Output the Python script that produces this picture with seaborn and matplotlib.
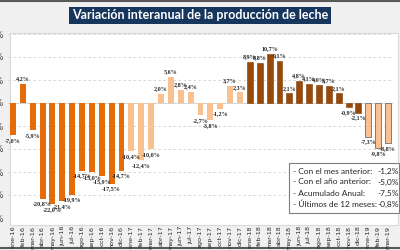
import numpy as np
import pandas as pd
import matplotlib
matplotlib.use("Agg")
import matplotlib.pyplot as plt
from matplotlib.patches import Rectangle
import seaborn as sns

# data
months = ['ene', 'feb', 'mar', 'abr', 'may', 'jun', 'jul', 'ago', 'sep', 'oct', 'nov', 'dic']
labels = [f"{m}-{y}" for y in ['16', '17', '18'] for m in months] + ['ene-19', 'feb-19', 'mar-19']
values_2016 = [-7.0, 4.2, -5.9, -20.8, -22.0, -21.4, -19.9, -14.7, -15.0, -15.9, -17.5, -14.7]
values_2017 = [-10.4, -12.4, -10.0, 2.0, 5.6, 2.8, 2.4, -2.7, -3.8, -1.2, 3.7, 2.3]
values_2018 = [8.9, 8.8, 10.7, 9.1, 2.1, 4.8, 4.1, 4.0, 3.7, 2.1, -0.9, -2.1]
values_2019 = [-7.3, -9.8, -8.8]
values = values_2016 + values_2017 + values_2018 + values_2019
years = ['2016'] * 12 + ['2017'] * 12 + ['2018'] * 12 + ['2019'] * 3
year_colors = {'2016': '#E46C0A', '2017': '#FAC090', '2018': '#984807', '2019': '#FAC090'}

summary_labels = ['- Con el mes anterior:', '- Con el año anterior:', '- Acumulado Anual:', '- Últimos de 12 meses:']
summary_values = ['-1,2%', '-5,0%', '-7,5%', '-0,8%']
title = 'Variación interanual de la producción de leche'

df = pd.DataFrame({'mes': labels, 'var': values, 'anio': years})

W, H = 400, 250
fig = plt.figure(figsize=(4, 2.5), dpi=100, facecolor='#F0F0F0')

# white chart panel
fig.patches.append(Rectangle((10 / W, 1 - 225 / H), 388 / W, 192 / H, transform=fig.transFigure,
                             facecolor='white', edgecolor='#D9D9D9', lw=0.8, zorder=0))

ax = fig.add_axes([8 / W, 1 - 218 / H, 385 / W, 184 / H])
ax.set_zorder(2)
ax.set_facecolor('none')
sns.barplot(data=df, x='mes', y='var', hue='mes', palette=[year_colors[y] for y in years],
            saturation=1, legend=False, width=0.6, ax=ax, zorder=3)

for p, yr in zip(ax.patches, years):
    if yr == '2019':
        p.set_edgecolor('#7F7F7F')
        p.set_linewidth(0.7)
    elif yr == '2018':
        p.set_edgecolor('#7A3A06')
        p.set_linewidth(0.4)

# data labels
for p, v in zip(ax.patches, values):
    x = p.get_x() + p.get_width() / 2
    txt = f"{v:.1f}%".replace('.', ',')
    if v >= 0:
        ax.text(x, v + 0.6, txt, ha='center', va='bottom', fontsize=4.4,
                fontweight='bold', family='Liberation Serif', color='#262626')
    else:
        ax.text(x, v - 0.6, txt, ha='center', va='top', fontsize=4.4,
                fontweight='bold', family='Liberation Serif', color='#262626')

ax.set_ylim(-25, 15)
ax.set_xlim(-0.5, len(values) - 0.5)
yt = np.arange(-25, 16, 5)
ax.set_yticks(yt)
ax.set_yticklabels([f"{t}%" for t in yt], fontsize=6, color='#404040')
ax.set_xticks(range(len(labels)))
ax.set_xticklabels(labels, rotation=90, fontsize=4.6, color='#262626', va='top', ha='center')
ax.tick_params(axis='y', length=0, pad=3)
ax.tick_params(axis='x', length=0, pad=5.5)
ax.grid(axis='y', color='#D0D0D0', linestyle=(0, (3, 3)), lw=0.6, zorder=0)
ax.set_axisbelow(True)
ax.axhline(0, color='#D0D0D0', lw=0.6, zorder=1)
ax.set_xlabel('')
ax.set_ylabel('')
for s in ax.spines.values():
    s.set_visible(False)

# title
fig.text(0.5, 1 - 15 / H, title, ha='center', va='center', color='white', fontsize=9,
         fontweight='bold', family='Lato',
         bbox=dict(boxstyle='square,pad=0.2', fc='#17365D', ec='none'))

# summary box
fig.patches.append(Rectangle((289 / W, 1 - 213 / H), 110 / W, 50 / H, transform=fig.transFigure,
                             facecolor='white', edgecolor='#7F7F7F', lw=0.8, zorder=5))
for i, (lab, val) in enumerate(zip(summary_labels, summary_values)):
    yy = 1 - (171 + i * 11) / H
    fig.text(293 / W, yy, lab, ha='left', va='center', fontsize=6, family='Lato', color='#262626', zorder=6)
    fig.text(399 / W, yy, val, ha='right', va='center', fontsize=6, family='Lato', color='#262626', zorder=6)

# frame lines
fig.add_artist(plt.Line2D([0, 1], [1 - 1 / H, 1 - 1 / H], transform=fig.transFigure, color='#595959', lw=1.5))
fig.add_artist(plt.Line2D([0, 1], [2 / H, 2 / H], transform=fig.transFigure, color='#595959', lw=1.5))

fig.savefig('out.png', dpi=100, facecolor=fig.get_facecolor())
